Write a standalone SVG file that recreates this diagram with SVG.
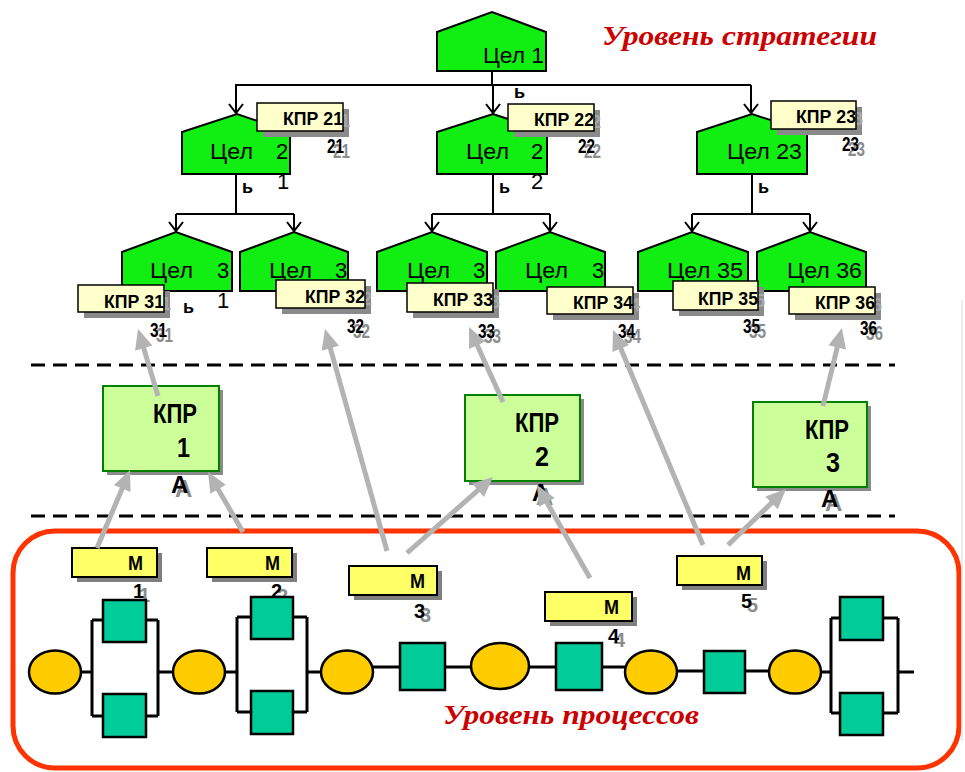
<svg xmlns="http://www.w3.org/2000/svg" width="965" height="772" viewBox="0 0 965 772">
  <style>
    .goal { fill: #11ee11; stroke: #000; stroke-width: 2; }
    .lbl { fill: #ffffcc; stroke: #000; stroke-width: 1.5; }
    .lblsh { fill: #8a8a8a; }
    .kpr { fill: #ccff99; stroke: #008000; stroke-width: 2; }
    .kprsh { fill: #8a8a8a; }
    .mbox { fill: #ffff66; stroke: #000; stroke-width: 2; }
    .msh { fill: #7f7f7f; }
    .sq { fill: #00cc99; stroke: #000; stroke-width: 2.5; }
    .ov { fill: #ffcc00; stroke: #000; stroke-width: 2.5; }
    .wire { fill: none; stroke: #000; stroke-width: 3; }
    .tree { fill: none; stroke: #000; stroke-width: 2; }
    .tree-a { fill: none; stroke: #000; stroke-width: 2; marker-end: url(#open); }
    .link { fill: none; stroke: #b3b3b3; stroke-width: 5; marker-end: url(#tri); }
    .dash { stroke: #000; stroke-width: 3; stroke-dasharray: 14 8; }
    text { font-family: "Liberation Sans", Arial, sans-serif; }
    .tn { font-size: 22px; fill: #000; }
    .tk { font-size: 18px; font-weight: bold; fill: #000; }
    .tkg { font-size: 18px; font-weight: bold; fill: #a8a8a8; }
    .tb { font-size: 18px; font-weight: bold; fill: #000; }
    .num { font-size: 20px; font-weight: bold; fill: #000; }
    .numg { font-size: 20px; font-weight: bold; fill: #8c8c8c; }
    .big { font-size: 27px; font-weight: bold; fill: #000; }
    .ta { font-size: 24px; font-weight: bold; fill: #000; }
    .tag { font-size: 24px; font-weight: bold; fill: #8c8c8c; }
    .mt { font-size: 21px; font-weight: bold; fill: #000; }
    .mn { font-size: 20px; font-weight: bold; fill: #000; }
    .mng { font-size: 20px; font-weight: bold; fill: #8c8c8c; }
    .lvl { font-family: "Liberation Serif", "Times New Roman", serif; font-size: 28px; font-weight: bold; font-style: italic; fill: #cc0000; }
  </style>
  <defs>
    <marker id="open" markerUnits="userSpaceOnUse" orient="auto" refX="0" refY="0" markerWidth="12" markerHeight="16" overflow="visible">
      <path d="M-9,-7 L0,0 L-9,7" fill="none" stroke="#000" stroke-width="2"/>
    </marker>
    <marker id="tri" markerUnits="userSpaceOnUse" orient="auto" refX="0" refY="0" markerWidth="20" markerHeight="20" overflow="visible">
      <path d="M-5,-9 L15,0 L-5,9 Z" fill="#b3b3b3"/>
    </marker>
  </defs>

  <rect width="965" height="772" fill="#fff"/>

  <!-- process area frame -->
  <rect x="13" y="531" width="946" height="237" rx="42" fill="none" stroke="#ff3300" stroke-width="5"/>
  <line x1="962" y1="300" x2="962" y2="740" stroke="#e6e6e6" stroke-width="1.5"/>

  <!-- level captions -->
  <text class="lvl" x="602" y="45" textLength="275" lengthAdjust="spacingAndGlyphs">Уровень стратегии</text>
  <text class="lvl" x="443" y="724" textLength="256" lengthAdjust="spacingAndGlyphs">Уровень процессов</text>

  <!-- separators -->
  <line class="dash" x1="31" y1="365" x2="895" y2="365"/>
  <line class="dash" x1="31" y1="516" x2="895" y2="516"/>

  <!-- goal tree connectors -->
  <g id="tree-connectors">
    <path class="tree" d="M492,71 V85 M235,85 H751"/>
    <path class="tree-a" d="M236,85 V113"/>
    <path class="tree-a" d="M493,85 V113"/>
    <path class="tree-a" d="M751,85 V113"/>
    <path class="tree" d="M236,174 V214 M176,214 H294 M493,174 V214 M432,214 H550 M752,174 V214 M692,214 H810"/>
    <path class="tree-a" d="M176,214 V231"/>
    <path class="tree-a" d="M294,214 V231"/>
    <path class="tree-a" d="M432,214 V231"/>
    <path class="tree-a" d="M550,214 V231"/>
    <path class="tree-a" d="M692,214 V231"/>
    <path class="tree-a" d="M810,214 V231"/>
  </g>

  <!-- level 1 -->
  <g id="goal-1">
    <path class="goal" d="M437,71 V32 L492,12 L546,32 V71 Z"/>
    <text class="tn" x="483" y="63" textLength="61" lengthAdjust="spacingAndGlyphs">Цел 1</text>
    <text class="tb" x="514" y="98">ь</text>
  </g>

  <!-- level 2 -->
  <g id="goal-21">
    <path class="goal" d="M182,174 V132 L237,114 L290,132 V174 Z"/>
    <text class="tn" x="210" y="159" textLength="43" lengthAdjust="spacingAndGlyphs">Цел</text>
    <text class="tn" x="276" y="159">2</text>
    <text class="tn" x="277" y="189">1</text>
    <text class="tb" x="242" y="193">ь</text>
  </g>
  <g id="goal-22">
    <path class="goal" d="M437,174 V132 L493,114 L547,132 V174 Z"/>
    <text class="tn" x="466" y="159" textLength="43" lengthAdjust="spacingAndGlyphs">Цел</text>
    <text class="tn" x="531" y="159">2</text>
    <text class="tn" x="531" y="189">2</text>
    <text class="tb" x="499" y="193">ь</text>
  </g>
  <g id="goal-23">
    <path class="goal" d="M697,174 V132 L752,114 L807,132 V174 Z"/>
    <text class="tn" x="727" y="159" textLength="75" lengthAdjust="spacingAndGlyphs">Цел 23</text>
    <text class="tb" x="758" y="193">ь</text>
  </g>

  <!-- level 3 -->
  <g id="goal-31">
    <path class="goal" d="M122,291 V252 L176,232 L232,252 V291 Z"/>
    <text class="tn" x="150" y="278" textLength="43" lengthAdjust="spacingAndGlyphs">Цел</text>
    <text class="tn" x="217" y="278">3</text>
    <text class="tn" x="217" y="308">1</text>
    <text class="tb" x="183" y="313">ь</text>
  </g>
  <g id="goal-32">
    <path class="goal" d="M240,291 V252 L294,232 L348,252 V291 Z"/>
    <text class="tn" x="269" y="278" textLength="43" lengthAdjust="spacingAndGlyphs">Цел</text>
    <text class="tn" x="335" y="278">3</text>
  </g>
  <g id="goal-33">
    <path class="goal" d="M377,291 V252 L432,232 L487,252 V291 Z"/>
    <text class="tn" x="407" y="278" textLength="43" lengthAdjust="spacingAndGlyphs">Цел</text>
    <text class="tn" x="473" y="278">3</text>
  </g>
  <g id="goal-34">
    <path class="goal" d="M496,291 V252 L550,232 L605,252 V291 Z"/>
    <text class="tn" x="525" y="278" textLength="43" lengthAdjust="spacingAndGlyphs">Цел</text>
    <text class="tn" x="592" y="278">3</text>
  </g>
  <g id="goal-35">
    <path class="goal" d="M638,291 V252 L692,232 L748,252 V291 Z"/>
    <text class="tn" x="667" y="278" textLength="76" lengthAdjust="spacingAndGlyphs">Цел 35</text>
  </g>
  <g id="goal-36">
    <path class="goal" d="M757,291 V252 L810,232 L866,252 V291 Z"/>
    <text class="tn" x="787" y="278" textLength="75" lengthAdjust="spacingAndGlyphs">Цел 36</text>
  </g>

  <!-- decision-criterion tags -->
  <g id="tag-21">
    <rect class="lblsh" x="263" y="109" width="86" height="28"/>
    <text class="tkg" x="350" y="127" text-anchor="end" textLength="60" lengthAdjust="spacingAndGlyphs">КПР 21</text>
    <rect class="lbl" x="257" y="103" width="86" height="28"/>
    <text class="tk" x="343" y="125" text-anchor="end" textLength="60" lengthAdjust="spacingAndGlyphs">КПР 21</text>
    <text class="numg" x="333" y="158" textLength="17" lengthAdjust="spacingAndGlyphs">21</text>
    <text class="num" x="327" y="153" textLength="17" lengthAdjust="spacingAndGlyphs">21</text>
  </g>
  <g id="tag-22">
    <rect class="lblsh" x="514" y="110" width="86" height="27"/>
    <text class="tkg" x="601" y="128" text-anchor="end" textLength="60" lengthAdjust="spacingAndGlyphs">КПР 22</text>
    <rect class="lbl" x="508" y="104" width="86" height="27"/>
    <text class="tk" x="594" y="126" text-anchor="end" textLength="60" lengthAdjust="spacingAndGlyphs">КПР 22</text>
    <text class="numg" x="584" y="158" textLength="17" lengthAdjust="spacingAndGlyphs">22</text>
    <text class="num" x="578" y="153" textLength="17" lengthAdjust="spacingAndGlyphs">22</text>
  </g>
  <g id="tag-23">
    <rect class="lblsh" x="777" y="107" width="85" height="28"/>
    <text class="tkg" x="863" y="125" text-anchor="end" textLength="60" lengthAdjust="spacingAndGlyphs">КПР 23</text>
    <rect class="lbl" x="771" y="101" width="85" height="28"/>
    <text class="tk" x="856" y="123" text-anchor="end" textLength="60" lengthAdjust="spacingAndGlyphs">КПР 23</text>
    <text class="numg" x="848" y="156" textLength="17" lengthAdjust="spacingAndGlyphs">23</text>
    <text class="num" x="842" y="151" textLength="17" lengthAdjust="spacingAndGlyphs">23</text>
  </g>
  <g id="tag-31">
    <rect class="lblsh" x="84" y="291" width="86" height="27"/>
    <text class="tkg" x="171" y="310" text-anchor="end" textLength="60" lengthAdjust="spacingAndGlyphs">КПР 31</text>
    <rect class="lbl" x="78" y="285" width="86" height="27"/>
    <text class="tk" x="164" y="308" text-anchor="end" textLength="60" lengthAdjust="spacingAndGlyphs">КПР 31</text>
    <text class="numg" x="156" y="342" textLength="17" lengthAdjust="spacingAndGlyphs">31</text>
    <text class="num" x="150" y="337" textLength="17" lengthAdjust="spacingAndGlyphs">31</text>
  </g>
  <g id="tag-32">
    <rect class="lblsh" x="282" y="286" width="89" height="28"/>
    <text class="tkg" x="372" y="305" text-anchor="end" textLength="60" lengthAdjust="spacingAndGlyphs">КПР 32</text>
    <rect class="lbl" x="276" y="280" width="89" height="28"/>
    <text class="tk" x="365" y="303" text-anchor="end" textLength="60" lengthAdjust="spacingAndGlyphs">КПР 32</text>
    <text class="numg" x="353" y="338" textLength="17" lengthAdjust="spacingAndGlyphs">32</text>
    <text class="num" x="347" y="333" textLength="17" lengthAdjust="spacingAndGlyphs">32</text>
  </g>
  <g id="tag-33">
    <rect class="lblsh" x="413" y="289" width="86" height="29"/>
    <text class="tkg" x="500" y="308" text-anchor="end" textLength="60" lengthAdjust="spacingAndGlyphs">КПР 33</text>
    <rect class="lbl" x="407" y="283" width="86" height="29"/>
    <text class="tk" x="493" y="306" text-anchor="end" textLength="60" lengthAdjust="spacingAndGlyphs">КПР 33</text>
    <text class="numg" x="484" y="343" textLength="17" lengthAdjust="spacingAndGlyphs">33</text>
    <text class="num" x="478" y="338" textLength="17" lengthAdjust="spacingAndGlyphs">33</text>
  </g>
  <g id="tag-34">
    <rect class="lblsh" x="553" y="293" width="86" height="27"/>
    <text class="tkg" x="640" y="311" text-anchor="end" textLength="60" lengthAdjust="spacingAndGlyphs">КПР 34</text>
    <rect class="lbl" x="547" y="287" width="86" height="27"/>
    <text class="tk" x="633" y="309" text-anchor="end" textLength="60" lengthAdjust="spacingAndGlyphs">КПР 34</text>
    <text class="numg" x="624" y="343" textLength="17" lengthAdjust="spacingAndGlyphs">34</text>
    <text class="num" x="618" y="338" textLength="17" lengthAdjust="spacingAndGlyphs">34</text>
  </g>
  <g id="tag-35">
    <rect class="lblsh" x="679" y="287" width="85" height="29"/>
    <text class="tkg" x="765" y="307" text-anchor="end" textLength="60" lengthAdjust="spacingAndGlyphs">КПР 35</text>
    <rect class="lbl" x="673" y="281" width="85" height="29"/>
    <text class="tk" x="758" y="305" text-anchor="end" textLength="60" lengthAdjust="spacingAndGlyphs">КПР 35</text>
    <text class="numg" x="749" y="338" textLength="17" lengthAdjust="spacingAndGlyphs">35</text>
    <text class="num" x="743" y="333" textLength="17" lengthAdjust="spacingAndGlyphs">35</text>
  </g>
  <g id="tag-36">
    <rect class="lblsh" x="795" y="293" width="86" height="27"/>
    <text class="tkg" x="882" y="311" text-anchor="end" textLength="60" lengthAdjust="spacingAndGlyphs">КПР 36</text>
    <rect class="lbl" x="789" y="287" width="86" height="27"/>
    <text class="tk" x="875" y="309" text-anchor="end" textLength="60" lengthAdjust="spacingAndGlyphs">КПР 36</text>
    <text class="numg" x="866" y="340" textLength="17" lengthAdjust="spacingAndGlyphs">36</text>
    <text class="num" x="860" y="335" textLength="17" lengthAdjust="spacingAndGlyphs">36</text>
  </g>

  <!-- aggregated criteria -->
  <g id="kpr-1">
    <rect class="kprsh" x="107" y="390" width="116" height="85"/>
    <rect class="kpr" x="103" y="386" width="116" height="85"/>
    <text class="big" x="153" y="423" textLength="44" lengthAdjust="spacingAndGlyphs">КПР</text>
    <text class="big" x="177" y="457" textLength="13" lengthAdjust="spacingAndGlyphs">1</text>
    <text class="tag" x="175" y="497">А</text>
    <text class="ta" x="171" y="493">А</text>
  </g>
  <g id="kpr-2">
    <rect class="kprsh" x="469" y="399" width="115" height="86"/>
    <rect class="kpr" x="465" y="395" width="115" height="86"/>
    <text class="big" x="515" y="432" textLength="44" lengthAdjust="spacingAndGlyphs">КПР</text>
    <text class="big" x="535" y="466" textLength="14" lengthAdjust="spacingAndGlyphs">2</text>
    <text class="tag" x="536" y="505">А</text>
    <text class="ta" x="532" y="501">А</text>
  </g>
  <g id="kpr-3">
    <rect class="kprsh" x="757" y="406" width="114" height="85"/>
    <rect class="kpr" x="753" y="402" width="114" height="85"/>
    <text class="big" x="805" y="439" textLength="44" lengthAdjust="spacingAndGlyphs">КПР</text>
    <text class="big" x="826" y="472" textLength="14" lengthAdjust="spacingAndGlyphs">3</text>
    <text class="tag" x="825" y="511">А</text>
    <text class="ta" x="821" y="507">А</text>
  </g>

  <!-- measures -->
  <g id="m-1">
    <rect class="msh" x="77" y="553" width="85" height="29"/>
    <rect class="mbox" x="72" y="548" width="85" height="29"/>
    <text class="mt" x="128" y="570" textLength="15" lengthAdjust="spacingAndGlyphs">М</text>
    <text class="mng" x="139" y="602">1</text>
    <text class="mn" x="133" y="598">1</text>
  </g>
  <g id="m-2">
    <rect class="msh" x="212" y="553" width="85" height="29"/>
    <rect class="mbox" x="207" y="548" width="85" height="29"/>
    <text class="mt" x="265" y="570" textLength="15" lengthAdjust="spacingAndGlyphs">М</text>
    <text class="mng" x="277" y="603">2</text>
    <text class="mn" x="271" y="598">2</text>
  </g>
  <g id="m-3">
    <rect class="msh" x="354" y="571" width="88" height="29"/>
    <rect class="mbox" x="349" y="566" width="88" height="29"/>
    <text class="mt" x="410" y="588" textLength="15" lengthAdjust="spacingAndGlyphs">М</text>
    <text class="mng" x="420" y="622">3</text>
    <text class="mn" x="414" y="618">3</text>
  </g>
  <g id="m-4">
    <rect class="msh" x="550" y="597" width="87" height="29"/>
    <rect class="mbox" x="545" y="592" width="87" height="29"/>
    <text class="mt" x="604" y="614" textLength="15" lengthAdjust="spacingAndGlyphs">М</text>
    <text class="mng" x="614" y="647">4</text>
    <text class="mn" x="608" y="643">4</text>
  </g>
  <g id="m-5">
    <rect class="msh" x="682" y="561" width="85" height="29"/>
    <rect class="mbox" x="677" y="556" width="85" height="29"/>
    <text class="mt" x="736" y="580" textLength="15" lengthAdjust="spacingAndGlyphs">М</text>
    <text class="mng" x="747" y="612">5</text>
    <text class="mn" x="741" y="608">5</text>
  </g>

  <!-- process chain -->
  <g id="process">
    <path class="wire" d="M81,672 H92 M92,620 V716 M92,620 H103 M146,620 H158 M92,716 H103 M146,716 H158 M158,620 V716 M158,672 H173"/>
    <path class="wire" d="M225,672 H237 M237,617 V712 M237,617 H251 M293,617 H307 M237,712 H251 M293,712 H307 M307,617 V712 M307,672 H320"/>
    <path class="wire" d="M373,667 H400 M445,667 H471 M529,667 H556 M602,667 H625"/>
    <path class="wire" d="M677,671 H704 M745,671 H769"/>
    <path class="wire" d="M821,672 H831 M831,618 V713 M831,618 H840 M883,618 H898 M831,713 H840 M883,713 H898 M898,618 V713 M898,672 H914"/>
    <ellipse class="ov" cx="55" cy="672" rx="26" ry="21.5"/>
    <ellipse class="ov" cx="199" cy="672" rx="26" ry="21.5"/>
    <ellipse class="ov" cx="347" cy="672" rx="26" ry="21.5"/>
    <ellipse class="ov" cx="500" cy="666" rx="29" ry="23"/>
    <ellipse class="ov" cx="651" cy="672" rx="26" ry="21.5"/>
    <ellipse class="ov" cx="795" cy="672" rx="26" ry="21.5"/>
    <rect class="sq" x="103" y="600" width="43" height="42"/>
    <rect class="sq" x="103" y="694" width="43" height="43"/>
    <rect class="sq" x="251" y="597" width="42" height="42"/>
    <rect class="sq" x="251" y="691" width="42" height="43"/>
    <rect class="sq" x="400" y="643" width="45" height="47"/>
    <rect class="sq" x="556" y="643" width="46" height="47"/>
    <rect class="sq" x="704" y="651" width="41" height="42"/>
    <rect class="sq" x="840" y="597" width="43" height="43"/>
    <rect class="sq" x="840" y="693" width="43" height="42"/>
  </g>

  <!-- criterion links -->
  <g id="links">
    <line class="link" x1="158" y1="396" x2="142.3" y2="343.4"/>
    <line class="link" x1="97" y1="548" x2="124.2" y2="483.8"/>
    <line class="link" x1="243" y1="532" x2="215.6" y2="485"/>
    <line class="link" x1="387" y1="551" x2="329" y2="343.4"/>
    <line class="link" x1="407" y1="553" x2="481.8" y2="486.9"/>
    <line class="link" x1="503" y1="402" x2="475.2" y2="340.7"/>
    <line class="link" x1="590" y1="578" x2="544.4" y2="498"/>
    <line class="link" x1="703" y1="545" x2="618.8" y2="343.8"/>
    <line class="link" x1="728" y1="545" x2="775.2" y2="499.4"/>
    <line class="link" x1="823" y1="406" x2="838.4" y2="342.6"/>
  </g>
</svg>
